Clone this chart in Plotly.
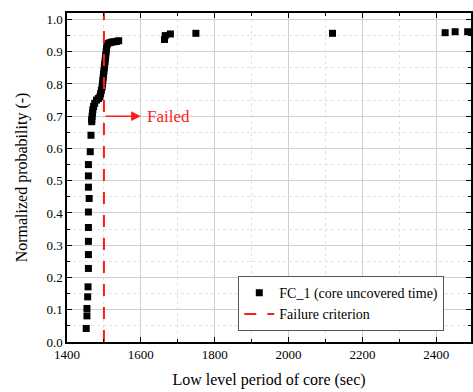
import plotly.graph_objects as go

# Data
fc_x = [1452, 1454, 1454, 1456, 1457, 1458, 1458, 1458, 1458, 1458, 1460, 1458, 1458, 1458,
        1463, 1465, 1467,
        1467, 1468, 1469, 1470, 1472, 1475, 1480, 1485, 1489, 1491, 1493, 1495, 1496, 1497,
        1498, 1499, 1500, 1501, 1502, 1503, 1504, 1505, 1506, 1507, 1508, 1510, 1516, 1522,
        1528, 1534, 1540,
        1664, 1666, 1680, 1749, 2119, 2424, 2451, 2485]
fc_y = [0.042, 0.081, 0.104, 0.140, 0.171, 0.228, 0.271, 0.312, 0.355, 0.403, 0.445, 0.480,
        0.515, 0.550, 0.590, 0.641, 0.683,
        0.690, 0.700, 0.710, 0.720, 0.730, 0.740, 0.750, 0.755, 0.760, 0.770, 0.780, 0.790,
        0.800, 0.810, 0.820, 0.830, 0.840, 0.850, 0.860, 0.870, 0.880, 0.890, 0.900, 0.910,
        0.920, 0.925, 0.928, 0.930, 0.931, 0.932, 0.934,
        0.938, 0.950, 0.955, 0.957, 0.957, 0.959, 0.962, 0.962]
criterion_x = [1500, 1500]
criterion_y = [0.0, 1.02]
x_range = [1400, 2494]
y_range = [0.0, 1.02]

SERIF = "Liberation Serif, Times New Roman, serif"

fig = go.Figure()
fig.add_trace(go.Scatter(
    x=fc_x, y=fc_y, mode="markers", name="FC_1 (core uncovered time)",
    marker=dict(symbol="square", size=7, color="black"),
))
fig.add_trace(go.Scatter(
    x=criterion_x, y=criterion_y, mode="lines", name="Failure criterion",
    line=dict(color="#ff1a1a", width=2, dash="12px,11px"),
))

fig.add_annotation(x=1600, y=0.70, ax=1500, ay=0.70, xref="x", yref="y",
                   axref="x", ayref="y", text="", showarrow=True,
                   arrowhead=2, arrowsize=1.3, arrowwidth=1.5, arrowcolor="#ff1a1a")
fig.add_annotation(x=1610, y=0.70, xref="x", yref="y", text="Failed",
                   showarrow=False, xanchor="left", yanchor="middle",
                   font=dict(family=SERIF, size=17, color="#ff1a1a"))

axis_common = dict(
    showline=True, linecolor="black", linewidth=1.5, mirror="ticks",
    ticks="inside", ticklen=5, tickcolor="black", tickwidth=1,
    showgrid=True, gridcolor="#cfcfcf", gridwidth=1,
    tickfont=dict(family=SERIF, size=13, color="black"),
    zeroline=False,
)

fig.update_xaxes(
    **axis_common, range=x_range, dtick=200, tick0=1400, tickformat="d",
    minor=dict(dtick=100, ticks="inside", ticklen=3, tickcolor="black",
               showgrid=True, gridcolor="#e2e2e2", griddash="dot"),
    title=dict(text="Low level period of core (sec)", standoff=12,
               font=dict(family=SERIF, size=16, color="black")),
)
fig.update_yaxes(
    **axis_common, range=y_range, dtick=0.1, tick0=0, tickformat=".1f",
    minor=dict(dtick=0.05, ticks="inside", ticklen=3, tickcolor="black",
               showgrid=True, gridcolor="#e2e2e2", griddash="dot"),
    title=dict(text="Normalized probability (-)", standoff=15,
               font=dict(family=SERIF, size=16, color="black")),
)

fig.update_layout(
    width=473, height=392,
    margin=dict(l=67, r=0, t=13, b=50),
    paper_bgcolor="white", plot_bgcolor="white",
    showlegend=True,
    legend=dict(x=0.424, y=0.20, xanchor="left", yanchor="top",
                bgcolor="white", bordercolor="#555555", borderwidth=1,
                font=dict(family=SERIF, size=14, color="black"),
                itemwidth=30, tracegroupgap=0),
)

fig.write_html("out.html")
